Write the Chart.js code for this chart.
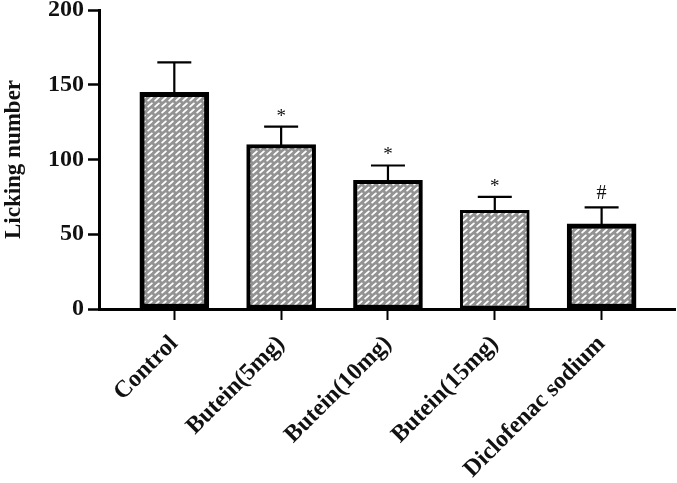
<!DOCTYPE html>
<html>
<head>
<meta charset="utf-8">
<script src="https://cdn.jsdelivr.net/npm/chart.js@4.4.1/dist/chart.umd.min.js"></script>
<style>
html,body{margin:0;padding:0;background:#fff;}
#wrap{width:677px;height:483px;position:relative;}
</style>
</head>
<body>
<div id="wrap"><canvas id="c" width="677" height="483"></canvas></div>
<script>
const categories = ["Control", "Butein(5mg)", "Butein(10mg)", "Butein(15mg)", "Diclofenac sodium"];
const means = [145, 110, 86, 66, 57];
const errors = [20, 12, 10, 9, 11];
const markers = ["", "*", "*", "*", "#"];
const yTicks = [0, 50, 100, 150, 200];
const borderWidths = [5, 4, 4, 3, 5];

const FONT = "'Liberation Serif', 'Times New Roman', serif";

function makePattern() {
  const p = document.createElement('canvas');
  p.width = 7; p.height = 6;
  const g = p.getContext('2d');
  g.fillStyle = '#939393';
  g.fillRect(0, 0, 7, 6);
  g.strokeStyle = '#ffffff';
  g.lineWidth = 1.9;
  g.lineCap = 'round';
  g.beginPath();
  g.moveTo(1.2, 4.6); g.lineTo(4.8, 1.4);
  g.stroke();
  return document.getElementById('c').getContext('2d').createPattern(p, 'repeat');
}

const errorPlugin = {
  id: 'errs',
  afterDatasetsDraw(chart) {
    const ctx = chart.ctx;
    const meta = chart.getDatasetMeta(0);
    const ys = chart.scales.y;
    ctx.save();
    ctx.strokeStyle = '#000';
    ctx.lineWidth = 2.2;
    meta.data.forEach((bar, i) => {
      const x = bar.x;
      const yTop = ys.getPixelForValue(means[i]);
      const yErr = ys.getPixelForValue(means[i] + errors[i]);
      ctx.beginPath();
      ctx.moveTo(x, yTop + 2);
      ctx.lineTo(x, yErr);
      ctx.moveTo(x - 17, yErr);
      ctx.lineTo(x + 17, yErr);
      ctx.stroke();
      if (markers[i]) {
        ctx.fillStyle = '#111';
        ctx.textAlign = 'center';
        ctx.textBaseline = 'middle';
        if (markers[i] === '#') {
          ctx.font = '20px ' + FONT;
          ctx.fillText(markers[i], x, yErr - 14);
        } else {
          ctx.font = '19px ' + FONT;
          ctx.fillText(markers[i], x, yErr - 10);
        }
      }
    });
    ctx.restore();
  }
};

const data = means.map((v, i) => ({ x: i, y: v }));

new Chart(document.getElementById('c'), {
  type: 'bar',
  data: {
    datasets: [{
      data: data,
      backgroundColor: makePattern(),
      borderColor: '#000',
      borderWidth: borderWidths,
      borderSkipped: false,
      barThickness: 69
    }]
  },
  plugins: [errorPlugin],
  options: {
    responsive: false,
    animation: false,
    layout: { padding: { left: 0, right: 2, top: 10, bottom: 0 } },
    plugins: { legend: { display: false }, tooltip: { enabled: false } },
    scales: {
      x: {
        type: 'linear',
        min: -0.705,
        max: 4.687,
        offset: false,
        grid: { display: true, offset: false, drawOnChartArea: false, drawTicks: true, tickLength: 11, tickWidth: 2, color: '#000' },
        border: { display: true, color: '#000', width: 3 },
        afterBuildTicks(scale) {
          scale.ticks = categories.map((c, i) => ({ value: i }));
        },
        ticks: {
          autoSkip: false,
          includeBounds: false,
          maxRotation: 45,
          minRotation: 45,
          padding: 10,
          color: '#111',
          font: { family: FONT, size: 24, weight: 'bold' },
          callback: (v) => categories[v]
        },
        afterFit(scale) {
          scale.height = 174;
          scale.paddingLeft = 0; scale.paddingRight = 0;
        }
      },
      y: {
        min: 0,
        max: 200,
        afterBuildTicks(scale) {
          scale.ticks = yTicks.map(v => ({ value: v }));
        },
        grid: { display: true, drawOnChartArea: false, drawTicks: true, tickLength: 11, tickWidth: 2.5, color: '#000' },
        border: { display: true, color: '#000', width: 3 },
        ticks: {
          padding: 4,
          color: '#111',
          font: { family: FONT, size: 24, weight: 'bold' }
        },
        title: {
          display: true,
          text: 'Licking number',
          color: '#111',
          padding: 0,
          font: { family: FONT, size: 23, weight: 'bold' }
        },
        afterFit(scale) {
          scale.width = 99;
          scale.paddingTop = 0; scale.paddingBottom = 0;
        }
      }
    }
  }
});
</script>
</body>
</html>
